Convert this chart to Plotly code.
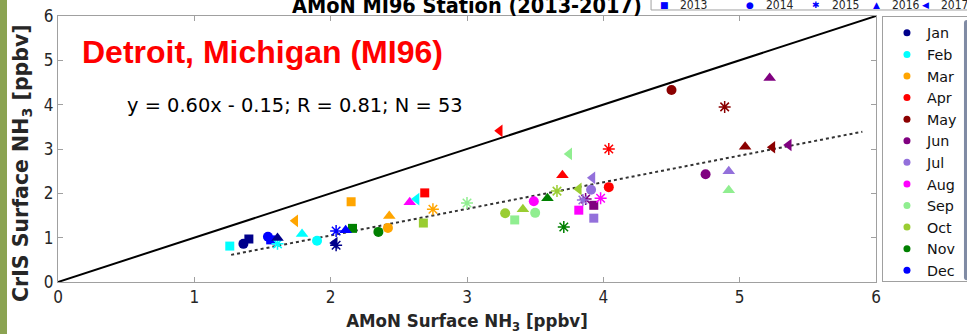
import plotly.graph_objects as go

# ---------------- data ----------------
month_names = ["Jan", "Feb", "Mar", "Apr", "May", "Jun", "Jul", "Aug", "Sep", "Oct", "Nov", "Dec"]
month_colors = ["#00008b", "#00ffff", "#ffa500", "#ff0000", "#8b0000", "#800080",
                "#9370db", "#ff00ff", "#90ee90", "#9acd32", "#008000", "#0000ff"]
year_list = [2013, 2014, 2015, 2016, 2017]
year_symbols = ["square", "circle", "asterisk-open", "triangle-up", "triangle-left"]

obs_month = ["Feb", "Jan", "Jan", "Dec", "Dec", "Jan", "Feb", "Mar", "Feb", "Feb",
             "Jan", "Jan", "Dec", "Dec", "Nov", "Mar", "Nov", "Mar", "Mar", "Oct",
             "Aug", "Feb", "Apr", "Apr", "Mar", "Sep", "Oct", "Sep", "Oct", "Aug",
             "Sep", "Nov", "Nov", "Sep", "Apr", "Oct", "Oct", "Aug", "Jun", "Jul",
             "Jul", "Jul", "Jun", "Jul", "Aug", "Apr", "Apr", "May", "May", "Jun",
             "May", "May", "Jun", "Jun", "Jul", "Sep"]
obs_year = [2013, 2014, 2013, 2014, 2013, 2016, 2015, 2017, 2016, 2014,
            2015, 2017, 2015, 2016, 2013, 2013, 2014, 2014, 2016, 2013,
            2016, 2017, 2013, 2017, 2015, 2015, 2014, 2013, 2016, 2014,
            2014, 2016, 2015, 2017, 2016, 2015, 2017, 2013, 2015, 2015,
            2017, 2014, 2013, 2013, 2015, 2014, 2015, 2014, 2015, 2016,
            2016, 2017, 2017, 2014, 2016, 2016]
amon = [1.26, 1.36, 1.40, 1.54, 1.56, 1.61, 1.61, 1.74, 1.79, 1.90,
        2.04, 2.03, 2.04, 2.11, 2.16, 2.15, 2.35, 2.42, 2.43, 2.68,
        2.58, 2.63, 2.69, 3.24, 2.75, 3.00, 3.28, 3.35, 3.41, 3.49,
        3.50, 3.59, 3.71, 3.75, 3.70, 3.66, 3.82, 3.82, 3.87, 3.85,
        3.92, 3.91, 3.93, 3.93, 3.98, 4.04, 4.04, 4.50, 4.89, 5.22,
        5.04, 5.24, 5.36, 4.75, 4.92, 4.92]
cris = [0.81, 0.86, 0.97, 1.02, 0.95, 0.99, 0.86, 1.38, 1.08, 0.93,
        0.83, 0.88, 1.15, 1.17, 1.21, 1.81, 1.13, 1.22, 1.49, 1.33,
        1.80, 1.87, 2.01, 3.41, 1.64, 1.78, 1.55, 1.40, 1.64, 1.82,
        1.56, 1.89, 1.24, 2.89, 2.41, 2.05, 2.10, 1.62, 1.87, 1.85,
        2.35, 2.08, 1.73, 1.44, 1.89, 2.14, 3.00, 4.33, 3.95, 4.60,
        3.05, 3.04, 3.09, 2.43, 2.50, 2.07]

fit_slope = 0.60
fit_intercept = -0.15
fit_x = [1.27, 5.9]
one_to_one = [0, 6]
axis_ticks = [0, 1, 2, 3, 4, 5, 6]

# ---------------- figure ----------------
fig = go.Figure()

# 1:1 line
fig.add_trace(go.Scatter(x=one_to_one, y=one_to_one, mode="lines",
                         line=dict(color="black", width=2), showlegend=False, hoverinfo="skip"))
# regression line
fig.add_trace(go.Scatter(x=fit_x, y=[fit_slope * v + fit_intercept for v in fit_x], mode="lines",
                         line=dict(color="#333333", width=2, dash="dot"), showlegend=False, hoverinfo="skip"))

color_of = dict(zip(month_names, month_colors))
marker_size = {"square": 9, "circle": 10, "asterisk-open": 10, "triangle-up": 11, "triangle-left": 11}
for yr, sym in zip(year_list, year_symbols):
    xs = [a for a, y in zip(amon, obs_year) if y == yr]
    ys = [c for c, y in zip(cris, obs_year) if y == yr]
    cs = [color_of[m] for m, y in zip(obs_month, obs_year) if y == yr]
    if sym == "asterisk-open":
        marker = dict(symbol=sym, size=marker_size[sym], color=cs, line=dict(color=cs, width=1.5))
    else:
        marker = dict(symbol=sym, size=marker_size[sym], color=cs, line=dict(width=0))
    fig.add_trace(go.Scatter(x=xs, y=ys, mode="markers", marker=marker, showlegend=False, name=str(yr)))

# month legend entries
for m, c in zip(month_names, month_colors):
    fig.add_trace(go.Scatter(x=[None], y=[None], mode="markers", name=m,
                             marker=dict(symbol="circle", size=7, color=c)))

axis_common = dict(range=[0, 6], tickvals=axis_ticks, showgrid=False, zeroline=False,
                   showline=True, linecolor="#a0a0a0", linewidth=1, mirror="ticks",
                   ticks="inside", ticklen=5, tickcolor="#a0a0a0", automargin=False,
                   tickfont=dict(family="DejaVu Sans Condensed", size=17, color="#262626"))

fig.update_layout(
    width=967, height=334,
    margin=dict(l=58, r=91, t=16, b=52, autoexpand=False),
    paper_bgcolor="white", plot_bgcolor="white",
    xaxis=dict(**axis_common,
               title=dict(text="<b>AMoN Surface NH<sub>3</sub> [ppbv]</b>", standoff=8,
                          font=dict(family="DejaVu Sans Condensed", size=18.5, color="#262626"))),
    yaxis=dict(**axis_common),
    legend=dict(x=1.0073, y=1.0, xanchor="left", yanchor="top",
                bordercolor="#a0a0a0", borderwidth=1, bgcolor="white",
                font=dict(family="DejaVu Sans", size=14.3, color="#111111"),
                tracegroupgap=0, itemwidth=30, indentation=4),
    showlegend=True,
)

# Y axis title as rotated annotation (centred like the reference)
fig.add_annotation(x=(22 - 58) / 818, y=(282 - 163) / 266, xref="paper", yref="paper",
                   xanchor="center", yanchor="middle", textangle=-90, showarrow=False,
                   text="<b>CrIS Surface NH<sub>3</sub> [ppbv]</b>",
                   font=dict(family="DejaVu Sans", size=20.5, color="#262626"))

# Station label and equation
fig.add_annotation(x=0.16, y=5.19, xref="x", yref="y", xanchor="left", yanchor="middle",
                   text="<b>Detroit, Michigan (MI96)</b>", showarrow=False,
                   font=dict(family="Liberation Sans", size=32, color="#ff0000"))
fig.add_annotation(x=0.49, y=3.99, xref="x", yref="y", xanchor="left", yanchor="middle",
                   text="y = %.2fx - %.2f; R = 0.81; N = 53" % (fit_slope, abs(fit_intercept)),
                   showarrow=False, font=dict(family="DejaVu Sans", size=19.4, color="black"))

# Title (partially cut off at top)
fig.add_annotation(x=(467 - 58) / 818, y=1.04, xref="paper", yref="paper", xanchor="center", yanchor="middle",
                   text="<b>AMoN MI96 Station (2013-2017)</b>", showarrow=False,
                   font=dict(family="DejaVu Sans Condensed", size=21.5, color="black"))

# Year legend box at top
fig.add_shape(type="rect", xref="paper", yref="paper", x0=0.725, x1=1.12, y0=1.0226, y1=1.2,
              line=dict(color="#a0a0a0", width=1), fillcolor="white")
year_px = [664, 750, 816, 876, 925]
glyphs = ["■", "●", "✱", "▲", "◀"]
for yr, g, px in zip(year_list, glyphs, year_px):
    fig.add_annotation(x=(px - 58) / 818, y=(282 - 5) / 266, xref="paper", yref="paper",
                       text=g, showarrow=False, xanchor="center", yanchor="middle",
                       font=dict(family="DejaVu Sans", size=9, color="#0000ff"))
    fig.add_annotation(x=(px + 14 - 58) / 818, y=(282 - 5) / 266, xref="paper", yref="paper",
                       text=str(yr), showarrow=False, xanchor="left", yanchor="middle",
                       font=dict(family="DejaVu Sans Condensed", size=12, color="#262626"))

# Slide background stripe at far left
fig.add_shape(type="rect", xref="paper", yref="paper", x0=-58 / 818, x1=-51 / 818,
              y0=-52 / 266, y1=282 / 266, line=dict(width=0), fillcolor="#8ba352", layer="below")

fig.write_html("out.html", config={"displayModeBar": False},
               post_script="document.body.style.margin='0px';")
